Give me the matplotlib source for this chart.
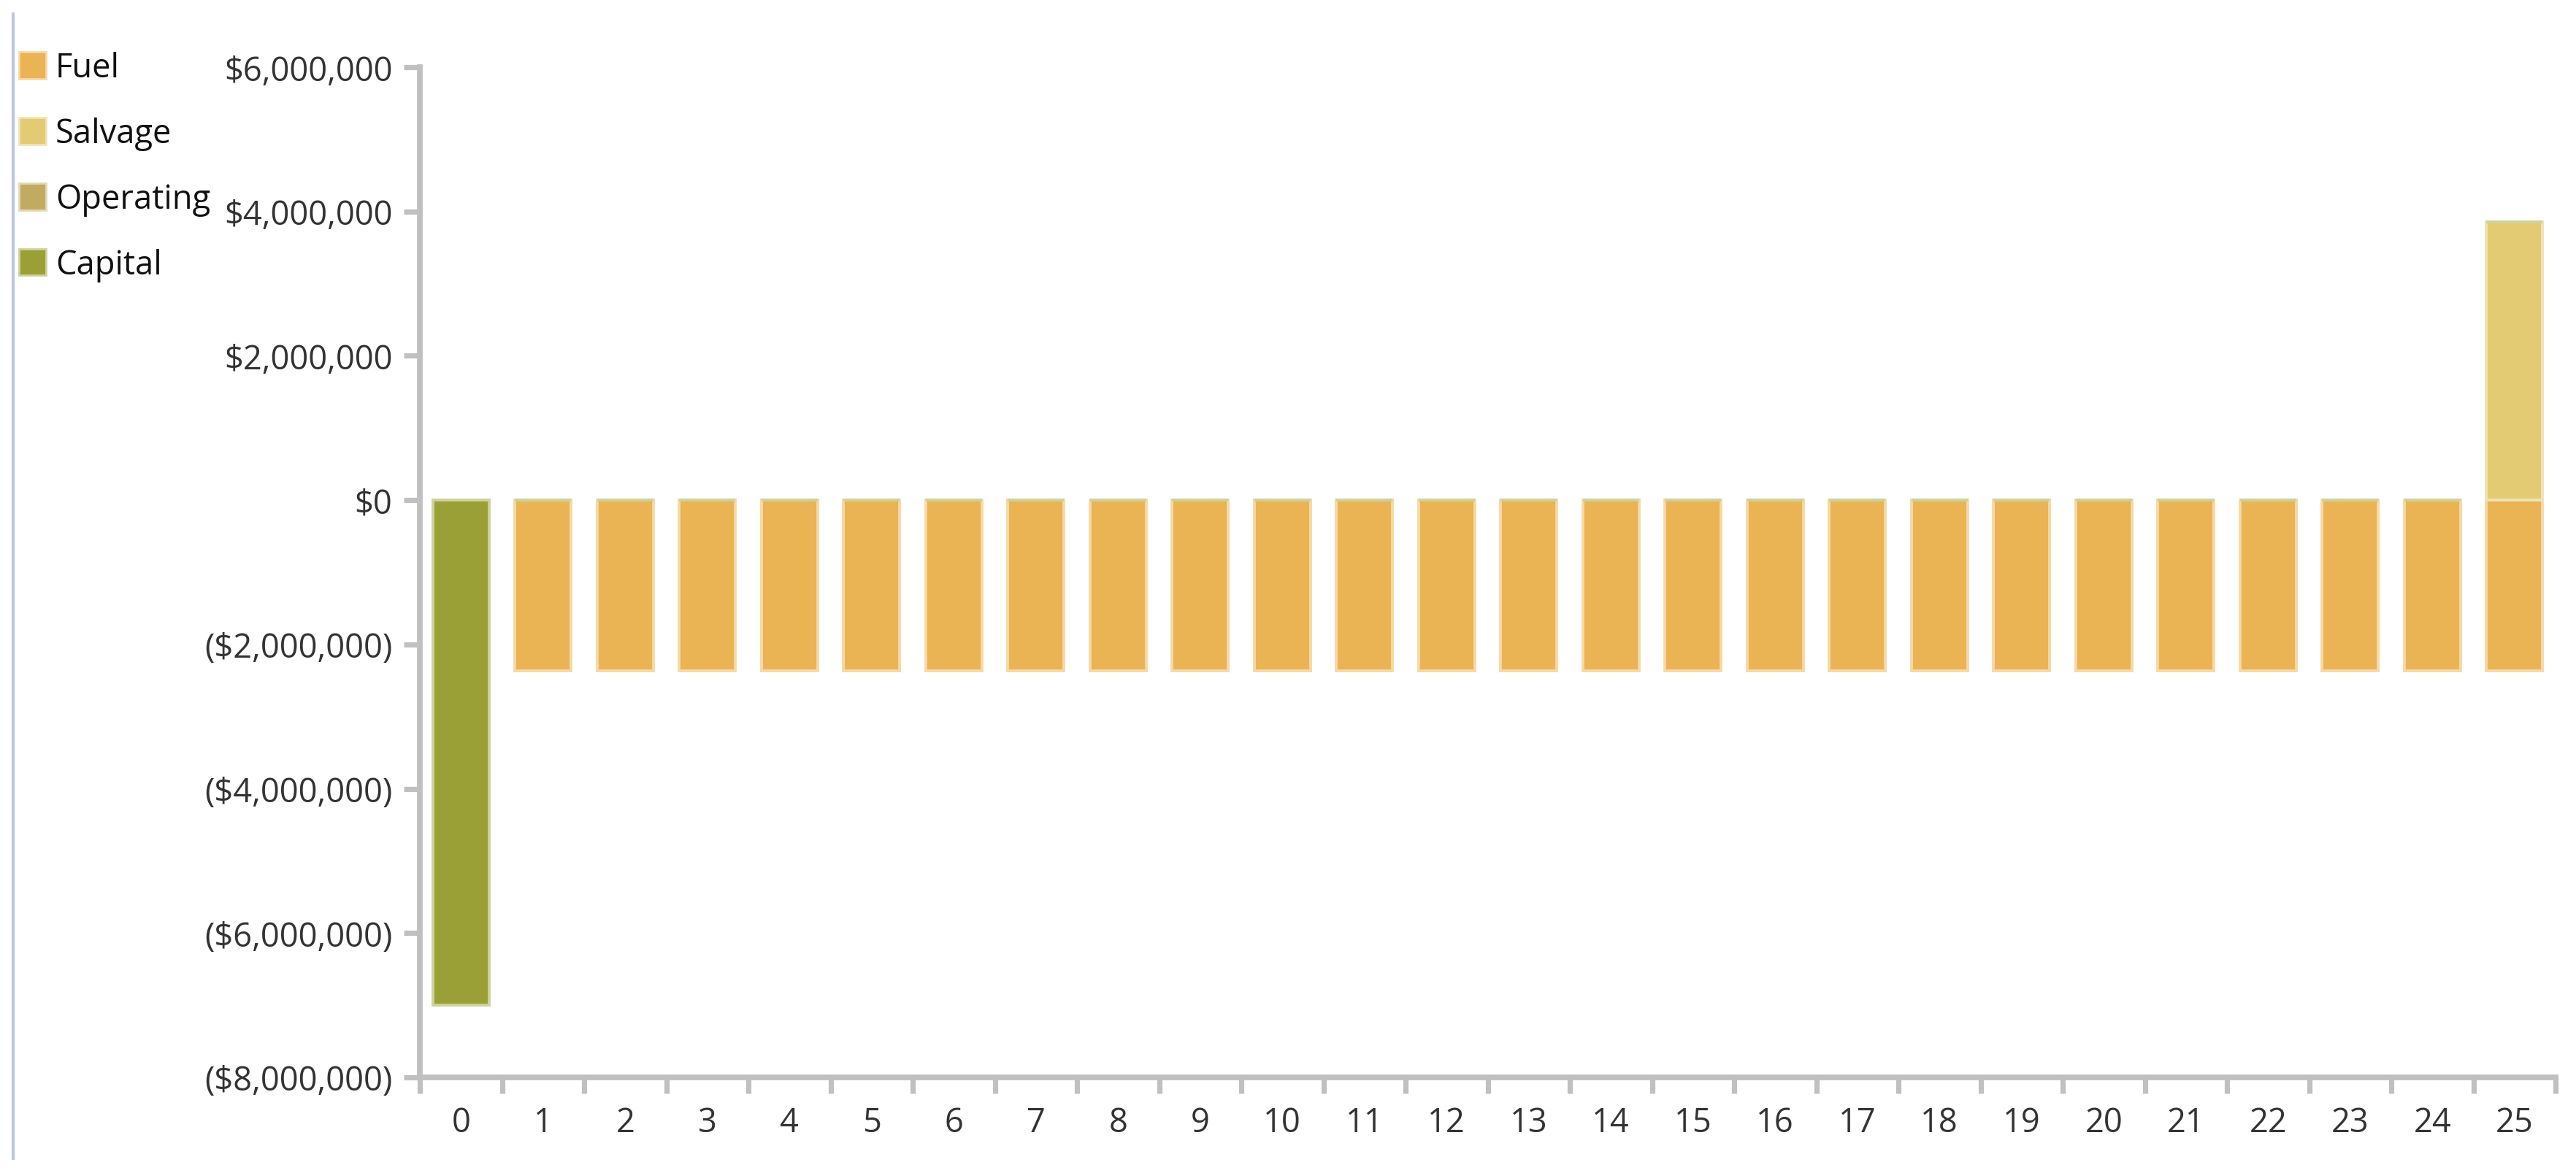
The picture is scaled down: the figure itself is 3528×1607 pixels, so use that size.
import matplotlib
matplotlib.use("Agg")
import matplotlib.pyplot as plt
from matplotlib.patches import Patch
from matplotlib.lines import Line2D
from matplotlib.ticker import FuncFormatter, FixedLocator

# datos (USD por año)
years = list(range(26))
fuel = [0] + [-2370000] * 25
salvage = [0] * 25 + [3860000]
operating = [0] * 26
capital = [-7000000] + [0] * 25

series_names = ["Fuel", "Salvage", "Operating", "Capital"]
series_vals = [fuel, salvage, operating, capital]
colores = ["#EAB353", "#E2CB73", "#C1AB62", "#9AA035"]
bordes = ["#F5D9A6", "#F0E4B6", "#E2D8B4", "#CFD29C"]

plt.rcParams["font.family"] = ["Open Sans", "DejaVu Sans"]
TAM = 16.3

fig = plt.figure(figsize=(17.64, 8.04), dpi=200)
ax = fig.add_axes([575 / 3528, 1 - 1477 / 1608, (3500 - 575) / 3528, (1477 - 93) / 1608])

# apilar: positivos y negativos por separado
pos_base = [0] * 26
neg_base = [0] * 26
for vals, col, borde in zip(series_vals, colores, bordes):
    bottoms = []
    for i, v in enumerate(vals):
        if v >= 0:
            bottoms.append(pos_base[i])
            pos_base[i] += v
        else:
            bottoms.append(neg_base[i])
            neg_base[i] += v
    ax.bar(years, vals, bottom=bottoms, width=0.685, color=col,
           edgecolor=borde, linewidth=1.4, zorder=2)

ax.set_xlim(-0.5, 25.5)
ax.set_ylim(-8000000, 6000000)
ax.set_yticks(range(-8000000, 6000001, 2000000))


def fmt_dinero(v, pos):
    if v < 0:
        return "(${:,.0f})".format(-v)
    return "${:,.0f}".format(v)


ax.yaxis.set_major_formatter(FuncFormatter(fmt_dinero))
ax.set_xticks(years)
ax.xaxis.set_minor_locator(FixedLocator([y - 0.5 for y in range(27)]))

gris = "#C0C0C0"
for s in ["top", "right"]:
    ax.spines[s].set_visible(False)
for s in ["left", "bottom"]:
    ax.spines[s].set_color(gris)
    ax.spines[s].set_linewidth(2.8)

ax.tick_params(axis="y", length=8, width=2.6, color=gris, pad=5.5,
               labelsize=TAM, labelcolor="#333333")
ax.tick_params(axis="x", which="major", length=0, pad=14,
               labelsize=TAM, labelcolor="#333333")
ax.tick_params(axis="x", which="minor", length=8, width=2.6, color=gris)

# leyenda
handles = [Patch(facecolor=c, edgecolor=b, linewidth=1.0) for c, b in zip(colores, bordes)]
fig.legend(handles, series_names, loc="upper left",
           bbox_to_anchor=(26 / 3528, 1 - 71 / 1608), frameon=False,
           fontsize=TAM, handlelength=0.82, handleheight=0.87,
           handletextpad=0.28, labelspacing=0.97, borderpad=0, borderaxespad=0,
           labelcolor="#111111")

fig.add_artist(Line2D([18 / 3528, 18 / 3528], [1 - 20 / 1608, 1 - 1588 / 1608],
                      transform=fig.transFigure, color="#B9C9DD", linewidth=1.5))

fig.savefig("out.png", dpi=200)
